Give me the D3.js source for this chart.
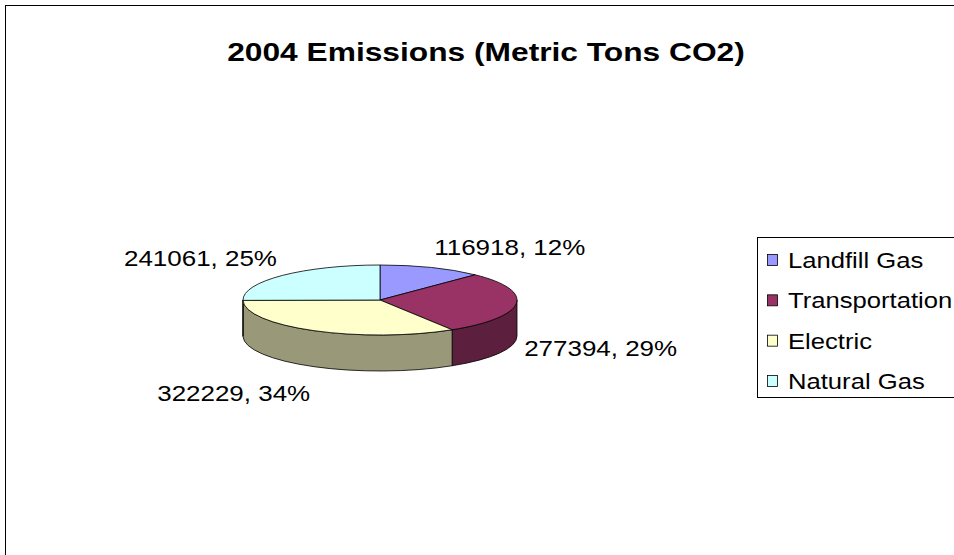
<!DOCTYPE html>
<html>
<head>
<meta charset="utf-8">
<script src="https://cdn.jsdelivr.net/npm/d3@7"></script>
<style>
  html, body { margin: 0; padding: 0; background: #fff; }
  svg { display: block; }
  text { font-family: Arial, "Liberation Sans", sans-serif; }
</style>
</head>
<body>
<svg id="pie" width="954" height="555"></svg>
<script>
const chartTitle = "2004 Emissions (Metric Tons CO2)";
const categories = ["Landfill Gas", "Transportation", "Electric", "Natural Gas"];
const emissions = [116918, 277394, 322229, 241061];
const topColors = ["#9999FF", "#993366", "#FFFFCC", "#CCFFFF"];

class Pie3D {

    constructor(svg_element_id) {
        this.svg = d3.select('#' + svg_element_id);
        this.width = document.getElementById(svg_element_id).width.baseVal.value;
        this.height = document.getElementById(svg_element_id).height.baseVal.value;

        // pie geometry (screen px)
        this.cx = 380;
        this.cy = 300;
        this.rx = 137;
        this.ry = 35;
        this.depth = 36;
        // the original picture is stretched sideways
        this.stretch = 1.18;
    }

    draw() {
        const svg = this.svg;
        const cx = this.cx, cy = this.cy, rx = this.rx, ry = this.ry, depth = this.depth;
        const stretch = this.stretch;

        // outer frame (right and bottom run off the page)
        svg.append("rect")
            .attr("x", 5.5).attr("y", 5.5)
            .attr("width", this.width + 10).attr("height", this.height + 10)
            .attr("fill", "none")
            .attr("stroke", "#000")
            .attr("stroke-width", 1);

        svg.append("text")
            .attr("transform", `translate(486,61) scale(1.22,1)`)
            .attr("text-anchor", "middle")
            .attr("font-size", 26)
            .attr("font-weight", "bold")
            .text(chartTitle);

        const data = categories.map((c, i) => ({ name: c, value: emissions[i], color: topColors[i] }));
        const total = d3.sum(emissions);
        const arcs = d3.pie().sort(null).value(d => d.value)(data);

        const top = a => [cx + rx * Math.sin(a), cy - ry * Math.cos(a)];

        // visible side walls: front half only
        const walls = svg.append("g");
        arcs.forEach(a => {
            const lo = Math.max(a.startAngle, Math.PI / 2);
            const hi = Math.min(a.endAngle, 3 * Math.PI / 2);
            if (lo >= hi) return;
            const p0 = top(lo), p1 = top(hi);
            const d = `M${p0[0]},${p0[1]}` +
                `A${rx},${ry} 0 0 1 ${p1[0]},${p1[1]}` +
                `L${p1[0]},${p1[1] + depth}` +
                `A${rx},${ry} 0 0 0 ${p0[0]},${p0[1] + depth}Z`;
            const c = d3.rgb(a.data.color);
            walls.append("path")
                .attr("d", d)
                .attr("fill", d3.rgb(c.r * 0.6, c.g * 0.6, c.b * 0.6))
                .attr("stroke", "#000")
                .attr("stroke-width", 0.8)
                .attr("stroke-linejoin", "round");
        });

        // top faces: circle arc squashed into an ellipse
        const arc = d3.arc().innerRadius(0).outerRadius(rx);
        svg.append("g")
            .attr("transform", `translate(${cx},${cy}) scale(1,${ry / rx})`)
            .selectAll("path")
            .data(arcs)
            .join("path")
            .attr("d", arc)
            .attr("fill", d => d.data.color)
            .attr("stroke", "#000")
            .attr("stroke-width", 0.8)
            .attr("vector-effect", "non-scaling-stroke")
            .attr("stroke-linejoin", "round");

        // data labels
        arcs.forEach(a => {
            const m = (a.startAngle + a.endAngle) / 2;
            const s = Math.sin(m), c = Math.cos(m);
            const x = cx + (rx + 8) * s;
            let y = cy - (ry + 14) * c;
            if (c < 0) y += depth + 14 - 9 * c;
            svg.append("text")
                .attr("transform", `translate(${x},${y}) scale(${stretch},1)`)
                .attr("text-anchor", s >= 0 ? "start" : "end")
                .attr("font-size", 22)
                .text(`${a.data.value}, ${Math.round(a.data.value / total * 100)}%`);
        });

        // legend
        const legend = svg.append("g");
        legend.append("rect")
            .attr("x", 757.5).attr("y", 237.5)
            .attr("width", 220).attr("height", 160)
            .attr("fill", "#fff")
            .attr("stroke", "#000")
            .attr("stroke-width", 1);

        const ly = d3.scalePoint().domain(categories).range([260, 381]);
        const rows = legend.selectAll("g.row")
            .data(data)
            .join("g")
            .attr("class", "row")
            .attr("transform", d => `translate(767,${ly(d.name)})`);

        rows.append("rect")
            .attr("x", 0.5).attr("y", -5.5)
            .attr("width", 10).attr("height", 11)
            .attr("fill", d => d.color)
            .attr("stroke", "#000")
            .attr("stroke-width", 0.8);

        rows.append("text")
            .attr("transform", `translate(21,8) scale(1.165,1)`)
            .attr("font-size", 22)
            .text(d => d.name);
    }
}

function whenDocumentLoaded(action) {
    if (document.readyState === "loading") {
        document.addEventListener("DOMContentLoaded", action);
    } else {
        action();
    }
}

whenDocumentLoaded(() => {
    const chart = new Pie3D('pie');
    chart.draw();
});
</script>
</body>
</html>
